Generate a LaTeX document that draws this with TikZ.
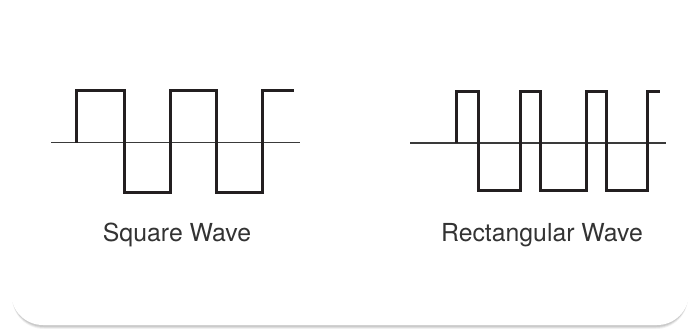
\documentclass[tikz,border=0pt]{standalone}
\usepackage{fontspec}
\setmainfont{TeX Gyre Heros}
\definecolor{wavecol}{HTML}{231F20}
\definecolor{axiscol}{HTML}{3A3A3A}
\definecolor{txtcol}{HTML}{333333}
\begin{document}
\begin{tikzpicture}[x=0.75pt,y=-0.75pt,
  wave/.style={draw=wavecol,line width=2.25pt,line join=miter,line cap=butt},
  axis/.style={draw=axiscol,line width=1pt},
  label/.style={text=txtcol,font=\fontsize{18.6}{20}\selectfont,anchor=base,inner sep=0pt}]
\useasboundingbox (0,0) rectangle (691,328);
\fill[white] (0,0) rectangle (691,328);
% card shadow and card
\foreach \o/\op in {3/0.05,2/0.07,1/0.09}{
  \fill[black,opacity=\op,rounded corners=24] (12,14+\o) rectangle (688,326+\o);
}
\fill[white,rounded corners=24] (11,12) rectangle (689,325);
% square wave
\draw[axis] (51,142.7) coordinate (sa) -- (300,142.7) coordinate (sb);
\draw[wave] (76.5,142.7) -- (76.5,90.5) -- (124.5,90.5) -- (124.5,192.5) -- (170.5,192.5)
  -- (170.5,90.5) -- (216.5,90.5) -- (216.5,192.5) -- (262.5,192.5) -- (262.5,90.5) -- (294,90.5);
% rectangular wave
\draw[axis] (410,143) coordinate (ra) -- (666,143) coordinate (rb);
\draw[wave] (456.5,143) -- (456.5,91.5) -- (478.5,91.5) -- (478.5,190.5) -- (520.5,190.5)
  -- (520.5,91.5) -- (540.5,91.5) -- (540.5,190.5) -- (586.5,190.5) -- (586.5,91.5) -- (606.5,91.5)
  -- (606.5,190.5) -- (647.5,190.5) -- (647.5,91.5) -- (660,91.5);
\node[label] (sq) at (177,241.7) {Square Wave};
\node[label] (rect) at (542,241.7) {Rectangular Wave};
\end{tikzpicture}
\end{document}
